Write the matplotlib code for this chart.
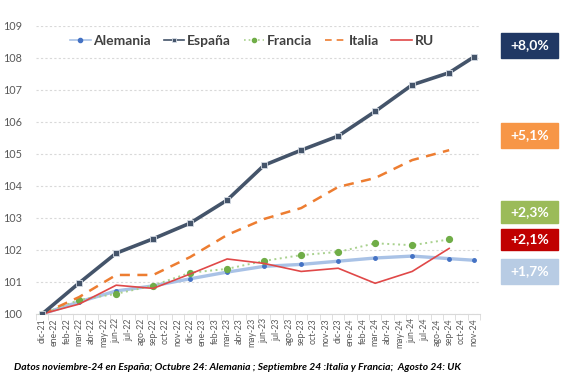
import matplotlib.pyplot as plt
import numpy as np

# month labels on the axis (dic-21 .. nov-24)
months = ["dic-21",
          "ene-22", "feb-22", "mar-22", "abr-22", "may-22", "jun-22",
          "jul-22", "ago-22", "sep-22", "oct-22", "nov-22", "dic-22",
          "ene-23", "feb-23", "mar-23", "abr-23", "may-23", "jun-23",
          "jul-23", "ago-23", "sep-23", "oct-23", "nov-23", "dic-23",
          "ene-24", "feb-24", "mar-24", "abr-24", "may-24", "jun-24",
          "jul-24", "ago-24", "sep-24", "oct-24", "nov-24"]

# quarterly observations (index 100 = dic-21)
obs_long = ["dic-21", "mar-22", "jun-22", "sep-22", "dic-22", "mar-23", "jun-23",
            "sep-23", "dic-23", "mar-24", "jun-24", "sep-24", "nov-24"]
obs_short = obs_long[:-1]

alemania = [100, 100.38, 100.72, 100.88, 101.10, 101.31, 101.49,
            101.55, 101.65, 101.75, 101.81, 101.73, 101.68]
espana = [100, 100.97, 101.90, 102.35, 102.84, 103.56, 104.65,
          105.12, 105.56, 106.33, 107.16, 107.54, 108.03]
francia = [100, 100.44, 100.63, 100.89, 101.29, 101.41, 101.66,
           101.84, 101.94, 102.21, 102.15, 102.33]
italia = [100, 100.53, 101.22, 101.22, 101.78, 102.47, 102.97,
          103.31, 103.97, 104.25, 104.81, 105.12]
ru = [100, 100.31, 100.90, 100.80, 101.25, 101.72, 101.58,
      101.33, 101.43, 100.96, 101.33, 102.05]

badges = ["+8,0%", "+5,1%", "+2,3%", "+2,1%", "+1,7%"]
badge_colors = ["#203864", "#F79646", "#9BBB59", "#C00000", "#B8CCE4"]

note = "Datos noviembre-24 en España; Octubre 24: Alemania ; Septiembre 24 :Italia y Francia;  Agosto 24: UK"

plt.rcParams["font.family"] = ["Lato", "DejaVu Sans"]

W, H = 569, 379
fig = plt.figure(figsize=(W / 100, H / 100), dpi=100)
ax = fig.add_axes([36 / W, 1 - 314 / H, 444 / W, 288 / H])

pos = {m: i for i, m in enumerate(months)}
xl = [pos[m] for m in obs_long]
xs = [pos[m] for m in obs_short]

ax.plot(xl, alemania, color="#A9C2E6", lw=2.4, marker="o", ms=2.5,
        mfc="#4472C4", mec="#4472C4", label="Alemania", zorder=3)
ax.plot(xl, espana, color="#44546A", lw=2.6, marker="s", ms=5,
        mfc="#44546A", mec="#D6DCE5", mew=0.6, label="España", zorder=5)
ax.plot(xs, francia, color="#A9D18E", lw=1.4, ls=(0, (1, 1.8)), marker="o",
        ms=4.2, mfc="#70AD47", mec="#70AD47", label="Francia", zorder=4)
ax.plot(xs, italia, color="#ED7D31", lw=1.8, ls=(0, (4, 3)),
        label="Italia", zorder=4)
ax.plot(xs, ru, color="#E04848", lw=1.2, label="RU", zorder=4)

ax.set_xlim(-0.5, len(months) - 0.5)
ax.set_ylim(100, 109)
ax.set_yticks(range(100, 110))
ax.set_xticks(range(len(months)))
ax.set_xticklabels(months, rotation=90, fontsize=6.3, color="#595959")
ax.set_xticks(np.arange(-0.5, len(months), 1), minor=True)
ax.tick_params(axis="x", which="major", length=0, pad=3)
ax.tick_params(axis="x", which="minor", length=4, color="#D9D9D9")
ax.tick_params(axis="y", length=0, labelsize=7.8, labelcolor="#595959", pad=10)
ax.grid(axis="y", ls=(0, (2, 2)), color="#D9D9D9", lw=0.8)
for s in ["left", "right", "top"]:
    ax.spines[s].set_visible(False)
ax.spines["bottom"].set_color("#D9D9D9")

leg = ax.legend(ncol=5, loc="center", bbox_to_anchor=(252 / W, 1 - 41 / H),
                bbox_transform=fig.transFigure, frameon=True, facecolor="white",
                edgecolor="none", fontsize=10, handlelength=1.5,
                columnspacing=0.9, handletextpad=0.2, borderpad=0.2)
for t in leg.get_texts():
    t.set_color("#404040")
    t.set_fontweight("bold")
for h in leg.get_lines():
    h.set_linewidth(1.2)
    h.set_markersize(3)

# growth badges on the right
tops = [33, 123, 201, 229, 259]
hts = [25, 25, 22, 21, 25]
for lab, c, t, h in zip(badges, badge_colors, tops, hts):
    fig.patches.append(plt.Rectangle((501 / W, 1 - (t + h) / H), 57 / W, h / H,
                                     transform=fig.transFigure, color=c))
    fig.text(529.5 / W, 1 - (t + h / 2) / H, lab, ha="center", va="center",
             color="white", fontsize=10, fontweight="bold")

fig.text(14 / W, 1 - 368 / H, note, fontsize=7.4, fontstyle="italic",
         fontweight="bold", va="center", color="black")

fig.savefig("out.png", dpi=100)
